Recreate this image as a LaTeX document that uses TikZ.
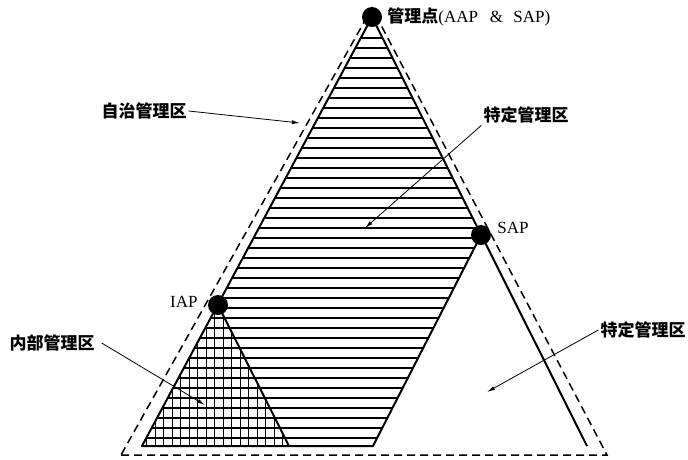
\documentclass[tikz,border=0pt]{standalone}
\usepackage{fontspec}
\setmainfont{Liberation Serif}
\newfontfamily\cjk{Noto Sans CJK SC}
\usetikzlibrary{positioning,arrows.meta}

\begin{document}
\begin{tikzpicture}[
    x=1pt, y=-1pt,
    edge/.style={line width=2pt, line join=round},
    outline/.style={line width=1.5pt, dash pattern=on 8pt off 5pt},
    hatch/.style={line width=1.3pt},
    gridline/.style={line width=0.9pt},
    dot/.style={circle, fill=black, minimum size=20pt, inner sep=0pt},
    lbl/.style={font=\cjk\bfseries\fontsize{17}{20}\selectfont, inner sep=2pt},
    ap/.style={font=\fontsize{17}{20}\selectfont, inner sep=2pt},
    pointer/.style={line width=0.8pt, -{Latex[length=8pt,width=4pt]}}
]
\useasboundingbox (0,0) rectangle (688,459);

% Corners
\coordinate (top) at (372,17);
\coordinate (lb) at (142,446);
\coordinate (rb) at (587,446);
\coordinate (hb) at (373,446);
\coordinate (gb) at (289,446);
\coordinate (s) at (481,235);
\coordinate (i) at (218,305);
\coordinate (dtop) at (372,8);
\coordinate (dl) at (121,455);
\coordinate (dr) at (607,455);

% Hatching
\begin{scope}
\clip (top) -- (lb) -- (hb) -- (s) -- cycle;
\foreach \y in {38,48,...,438}
  \draw[hatch] (100,\y) -- (620,\y);
\end{scope}
\begin{scope}
\clip (i) -- (lb) -- (gb) -- cycle;
\foreach \x in {146.5,155,...,290}
  \draw[gridline] (\x,290) -- (\x,450);
\end{scope}

% Edges
\draw[edge] (top) -- (lb) -- (hb) -- (s);
\draw[edge] (top) -- (rb);
\draw[edge] (i) -- (gb);
\draw[outline] (dl) -- (dr) -- (dtop) -- cycle;

% Points
\node[dot] (apex) at (top) {};
\node[dot] (sap) at (s) {};
\node[dot] (iap) at (i) {};
\node[ap, right=3pt of apex] (mgmt) {{\cjk\bfseries 管理点}(AAP\hspace{0.7em}\&\hspace{0.6em}SAP)};
\node[ap, right=4pt of sap, yshift=7pt] (saplbl) {SAP};
\node[ap, left=8pt of iap, yshift=3pt] (iaplbl) {IAP};

% Regions
\node[lbl] (auto) at (144,111) {自治管理区};
\node[lbl] (spec1) at (526,115) {特定管理区};
\node[lbl] (inner) at (52,343) {内部管理区};
\node[lbl] (spec2) at (643,330) {特定管理区};

\coordinate (autoend) at (300,123);
\coordinate (spec1end) at (365,228);
\coordinate (innerend) at (205,405);
\coordinate (spec2end) at (487,392);

\draw[pointer] (auto.east) -- (autoend);
\draw[pointer] (spec1.south west) -- (spec1end);
\draw[pointer] ([xshift=5pt]inner.east) -- (innerend);
\draw[pointer] (spec2.west) -- (spec2end);

\end{tikzpicture}
\end{document}
